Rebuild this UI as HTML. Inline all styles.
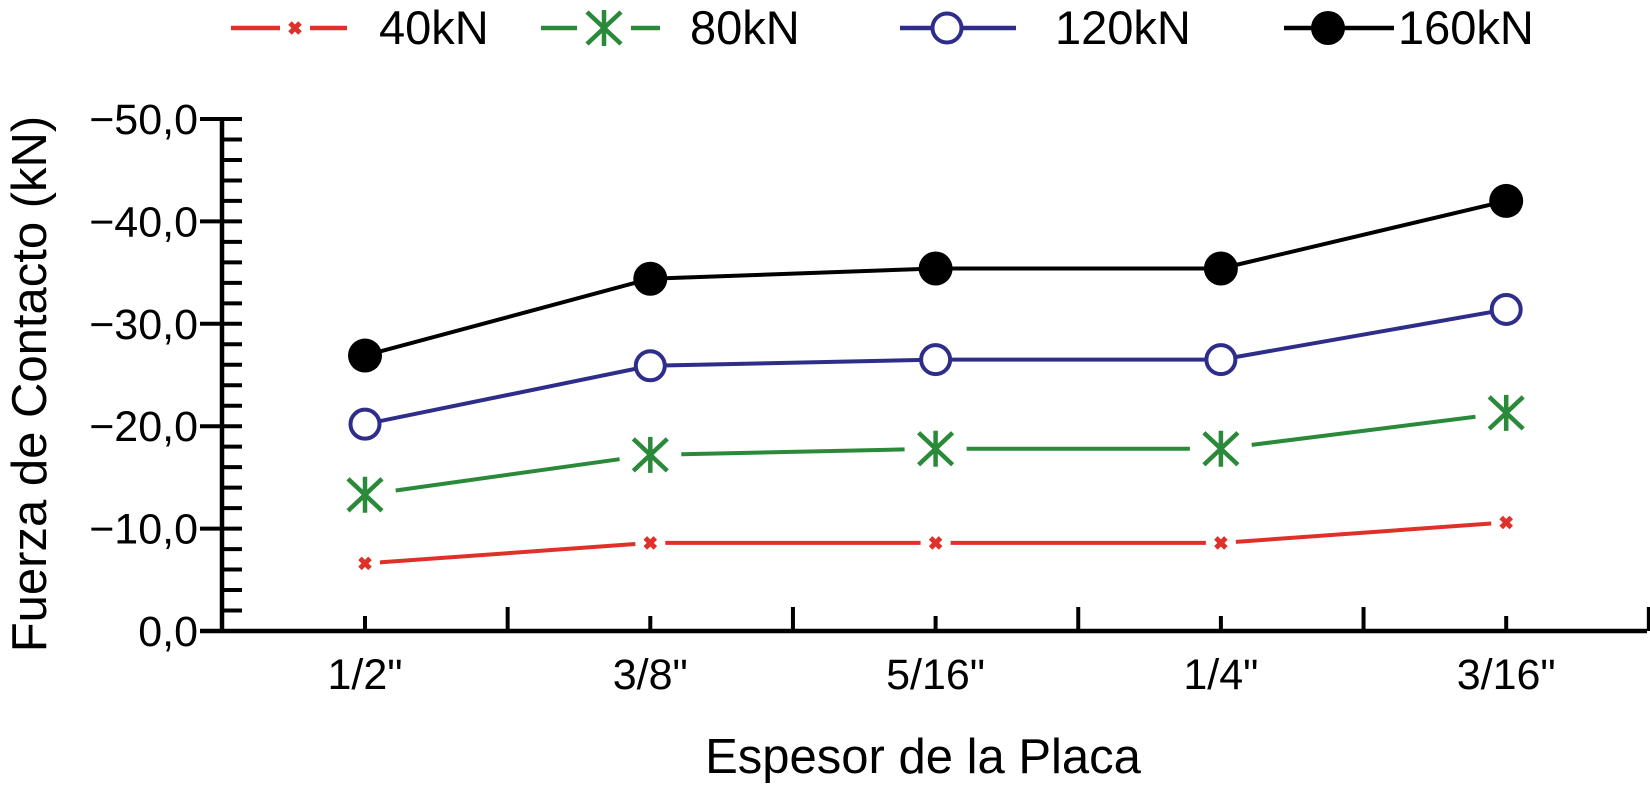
<!DOCTYPE html>
<html><head><meta charset="utf-8"><style>
html,body{margin:0;padding:0;background:#fff;}
svg{display:block;font-family:"Liberation Sans",Arial,sans-serif;}
</style></head><body>
<svg id="chart" width="1650" height="792" viewBox="0 0 1650 792">
<g id="legend"></g>
<g id="axes"></g>
<g id="series"></g>
<text x="0" y="0" transform="translate(46,384) rotate(-90)" text-anchor="middle" font-size="49">Fuerza de Contacto (kN)</text>
<text x="923" y="773" text-anchor="middle" font-size="49">Espesor de la Placa</text>
</svg>
<script>
const categories = ['1/2"', '3/8"', '5/16"', '1/4"', '3/16"'];
const seriesNames = ['40kN', '80kN', '120kN', '160kN'];
const s40 = [6.6, 8.6, 8.6, 8.6, 10.6];
const s80 = [13.3, 17.2, 17.8, 17.8, 21.3];
const s120 = [20.2, 25.9, 26.5, 26.5, 31.4];
const s160 = [26.9, 34.4, 35.4, 35.4, 42.0];
const yTicks = [0, 10, 20, 30, 40, 50];
const yTickLabels = ['0,0', '\u221210,0', '\u221220,0', '\u221230,0', '\u221240,0', '\u221250,0'];

const NS = 'http://www.w3.org/2000/svg';
const X0 = 222, X1 = 1647, Y0 = 631, Ytop = 119;
const step = 285.3, firstCat = 365;
function xPos(i){ return firstCat + i*step; }
function yPos(v){ return Y0 - (v/50)*(Y0-Ytop); }
function mk(tag, attrs, parent){
  const e = document.createElementNS(NS, tag);
  for (const k in attrs) e.setAttribute(k, attrs[k]);
  parent.appendChild(e); return e;
}
const axes = document.getElementById('axes');
const yAxis = mk('line', {x1:X0, y1:Ytop-2, x2:X0, y2:Y0+2, stroke:'#000','stroke-width':4.5}, axes);


const xAxis = mk('line', {x1:X0-22, y1:Y0, x2:X1, y2:Y0, stroke:'#000','stroke-width':4.5}, axes);


for (let v = 0; v <= 50; v += 2) {
  const major = v % 10 === 0;
  const t = mk('line', {x1: major ? X0-22 : X0, y1:yPos(v), x2:X0+20, y2:yPos(v), stroke:'#000','stroke-width':4}, axes);
  
  
}
yTicks.forEach((v, i) => {
  const t = mk('text', {x:198, y:yPos(v)+15, 'text-anchor':'end', 'font-size':43}, axes);
  t.textContent = yTickLabels[i];
  
  
});
categories.forEach((c, i) => {
  const x = xPos(i);
  const t = mk('line', {x1:x, y1:Y0, x2:x, y2:Y0-15, stroke:'#000','stroke-width':4}, axes);
  
  
  const m = mk('line', {x1:x+step/2, y1:Y0, x2:x+step/2, y2:Y0-24, stroke:'#000','stroke-width':4}, axes);
  
  
  const l = mk('text', {x:x, y:689, 'text-anchor':'middle', 'font-size':43}, axes);
  l.textContent = c;
  
  
});

function marker(kind, x, y, g){
  let e;
  if (kind === 'x') {
    e = mk('path', {d:`M${x-5},${y-5}L${x+5},${y+5}M${x+5},${y-5}L${x-5},${y+5}`, stroke:'#e0302a','stroke-width':5, fill:'none'}, g);
  } else if (kind === 'star') {
    e = mk('path', {d:`M${x},${y-18}L${x},${y+18}M${x-17},${y-16}L${x+17},${y+16}M${x+17},${y-16}L${x-17},${y+16}`, stroke:'#2a8a3a','stroke-width':4.5, fill:'none'}, g);
  } else if (kind === 'open') {
    e = mk('circle', {cx:x, cy:y, r:14.5, fill:'#fff', stroke:'#2e2e8a','stroke-width':4}, g);
  } else {
    e = mk('circle', {cx:x, cy:y, r:17, fill:'#000'}, g);
  }
  return e;
}
const seriesDefs = [
  {vals:s40, color:'#e0302a', kind:'x', gap:15, w:4},
  {vals:s80, color:'#2a8a3a', kind:'star', gap:31, w:4},
  {vals:s120, color:'#2e2e8a', kind:'open', gap:0, w:4},
  {vals:s160, color:'#000', kind:'filled', gap:0, w:4}
];
const sg = document.getElementById('series');
seriesDefs.forEach((s, si) => {
  const g = mk('g', {}, sg);
  
  
  for (let i = 0; i < s.vals.length-1; i++) {
    const xa = xPos(i), ya = yPos(s.vals[i]), xb = xPos(i+1), yb = yPos(s.vals[i+1]);
    const len = Math.hypot(xb-xa, yb-ya), ux = (xb-xa)/len, uy = (yb-ya)/len;
    const seg = mk('line', {x1:xa+ux*s.gap, y1:ya+uy*s.gap, x2:xb-ux*s.gap, y2:yb-uy*s.gap, stroke:s.color,'stroke-width':s.w}, g);
    
    
  }
  s.vals.forEach((v, i) => {
    const m = marker(s.kind, xPos(i), yPos(v), g);
    
    
  });
});

const legend = document.getElementById('legend');
const legX = [[231,347,295,379],[541,660,604,690],[900,1016,947,1055],[1284,1394,1328,1398]];
seriesDefs.forEach((s, si) => {
  const [a, b, mx, tx] = legX[si];
  const g = mk('g', {}, legend);
  
  
  const gap = s.kind === 'x' ? 15 : (s.kind === 'star' ? 27 : 0);
  mk('line', {x1:a, y1:28, x2:mx-gap, y2:28, stroke:s.color,'stroke-width':4.5}, g);
  mk('line', {x1:mx+gap, y1:28, x2:b, y2:28, stroke:s.color,'stroke-width':4.5}, g);
  marker(s.kind, mx, 28, g);
  const t = mk('text', {x:tx, y:44, 'font-size':47}, g);
  t.textContent = seriesNames[si];
  
  
});
</script>
</body></html>
